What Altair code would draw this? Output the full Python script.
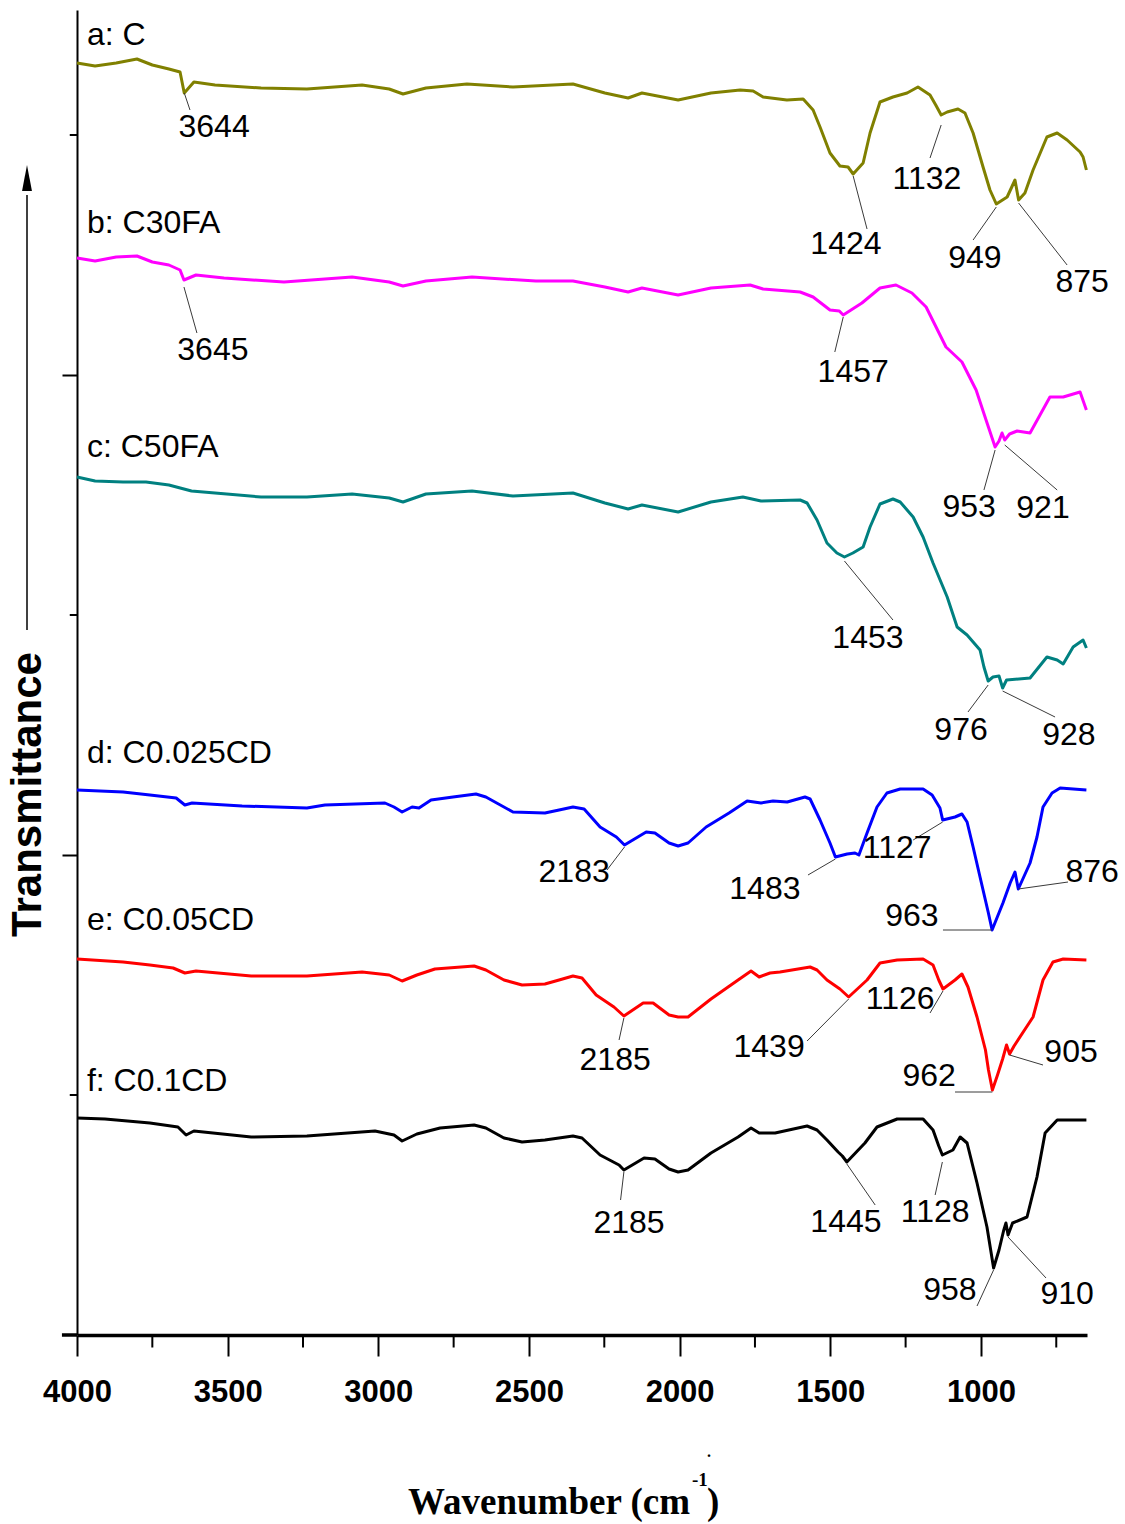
import altair as alt
import pandas as pd

# ---------------------------------------------------------------
# FTIR spectra (wavenumber in cm-1, transmittance in offset a.u.)
# ---------------------------------------------------------------
A_WN = [4000, 3940, 3870, 3801, 3750, 3695, 3658, 3644, 3612, 3542,
        3389, 3237, 3054, 2964, 2918, 2842, 2706, 2553, 2354, 2248,
        2171, 2125, 2005, 1896, 1799, 1756, 1723, 1644, 1590, 1557,
        1534, 1501, 1468, 1441, 1424, 1391, 1368, 1335, 1292, 1245,
        1209, 1169, 1150, 1132, 1112, 1076, 1053, 1026, 993, 970,
        949, 913, 887, 875, 854, 827, 781, 747, 714, 671,
        661, 650]
A_T = [127.2, 126.9, 127.2, 127.6, 127.0, 126.6, 126.3, 124.2, 125.3, 125.0,
       124.7, 124.6, 125.0, 124.6, 124.1, 124.7, 125.1, 124.8, 125.1, 124.2,
       123.7, 124.2, 123.5, 124.2, 124.5, 124.4, 123.8, 123.5, 123.6, 122.5,
       120.8, 118.2, 116.9, 116.8, 116.1, 117.2, 120.2, 123.3, 123.8, 124.2,
       124.8, 124.0, 123.0, 122.0, 122.3, 122.6, 122.2, 120.2, 116.8, 114.5,
       113.1, 113.8, 115.5, 113.5, 114.2, 116.5, 119.8, 120.2, 119.5, 118.3,
       117.8, 116.5]

B_WN = [4000, 3940, 3870, 3801, 3750, 3695, 3658, 3645, 3605, 3512,
        3313, 3087, 2964, 2918, 2842, 2689, 2477, 2354, 2248, 2171,
        2125, 2005, 1896, 1766, 1723, 1600, 1557, 1501, 1470, 1457,
        1395, 1335, 1282, 1229, 1182, 1149, 1116, 1063, 1016, 983,
        953, 940, 930, 921, 905, 880, 837, 804, 771, 727,
        671, 650]
B_T = [107.7, 107.4, 107.8, 107.9, 107.3, 107.0, 106.5, 105.5, 106.0, 105.7,
       105.3, 105.8, 105.3, 104.9, 105.4, 105.8, 105.4, 105.4, 104.8, 104.3,
       104.7, 104.0, 104.7, 105.0, 104.6, 104.3, 103.8, 102.5, 102.4, 102.0,
       103.2, 104.7, 105.0, 104.2, 102.8, 100.8, 98.8, 97.3, 94.5, 91.5,
       88.8, 89.4, 90.2, 89.5, 90.1, 90.4, 90.2, 92.0, 93.8, 93.8,
       94.3, 92.5]

C_WN = [4000, 3940, 3847, 3771, 3695, 3620, 3542, 3389, 3237, 3087,
        2964, 2918, 2842, 2689, 2553, 2354, 2248, 2171, 2125, 2005,
        1896, 1790, 1730, 1600, 1577, 1544, 1511, 1478, 1453, 1425,
        1391, 1368, 1335, 1292, 1268, 1225, 1192, 1159, 1112, 1079,
        1046, 1003, 990, 976, 960, 940, 928, 915, 837, 781,
        747, 727, 694, 661, 650]
C_T = [85.8, 85.4, 85.3, 85.3, 85.0, 84.4, 84.2, 83.8, 83.8, 84.1,
       83.7, 83.3, 84.1, 84.4, 83.9, 84.2, 83.2, 82.6, 83.0, 82.3,
       83.3, 83.8, 83.4, 83.5, 83.2, 81.5, 79.2, 78.2, 77.8, 78.2,
       78.8, 80.8, 83.1, 83.6, 83.3, 81.8, 79.8, 77.2, 73.8, 70.8,
       70.0, 68.5, 66.8, 65.4, 65.8, 65.9, 64.7, 65.5, 65.7, 67.8,
       67.5, 67.1, 68.8, 69.5, 68.7]

D_WN = [4000, 3847, 3758, 3671, 3642, 3618, 3452, 3237, 3177, 2978,
        2948, 2921, 2888, 2865, 2825, 2752, 2676, 2643, 2553, 2447,
        2400, 2354, 2317, 2264, 2210, 2183, 2111, 2082, 2035, 2005,
        1972, 1912, 1836, 1776, 1753, 1730, 1690, 1643, 1584, 1567,
        1534, 1501, 1483, 1444, 1418, 1405, 1378, 1345, 1312, 1268,
        1192, 1162, 1136, 1127, 1086, 1063, 1046, 1026, 1003, 976,
        963, 927, 903, 887, 876, 837, 814, 794, 764, 737,
        650]
D_T = [54.5, 54.3, 54.0, 53.7, 53.0, 53.2, 52.9, 52.7, 53.0, 53.2,
       52.8, 52.3, 52.8, 52.7, 53.5, 53.8, 54.1, 53.8, 52.3, 52.2,
       52.5, 52.8, 52.6, 50.8, 49.8, 49.0, 50.3, 50.2, 49.2, 48.9,
       49.2, 50.8, 52.2, 53.4, 53.3, 53.2, 53.4, 53.3, 53.8, 53.6,
       51.5, 49.2, 47.8, 48.1, 48.2, 48.0, 50.2, 52.8, 54.2, 54.6,
       54.6, 54.0, 52.7, 51.5, 51.8, 52.1, 51.3, 48.8, 45.8, 42.3,
       40.5, 43.2, 45.2, 46.3, 44.6, 47.2, 49.8, 52.8, 54.2, 54.7,
       54.5]

E_WN = [4000, 3847, 3758, 3681, 3642, 3605, 3422, 3237, 3054, 2964,
        2921, 2872, 2812, 2682, 2643, 2583, 2523, 2447, 2400, 2354,
        2324, 2277, 2218, 2185, 2121, 2088, 2035, 2005, 1972, 1896,
        1806, 1763, 1736, 1700, 1667, 1567, 1544, 1511, 1468, 1439,
        1378, 1335, 1278, 1192, 1159, 1140, 1126, 1086, 1063, 1043,
        1013, 985, 975, 962, 945, 928, 915, 905, 890, 827,
        794, 761, 727, 650]
E_T = [37.6, 37.3, 37.0, 36.7, 36.2, 36.4, 35.9, 35.9, 36.3, 36.0,
       35.4, 36.0, 36.6, 36.9, 36.5, 35.5, 35.0, 35.1, 35.5, 35.9,
       35.7, 34.0, 32.8, 31.9, 33.2, 33.2, 32.0, 31.8, 31.8, 33.6,
       35.5, 36.4, 35.8, 36.2, 36.3, 36.8, 36.5, 35.5, 34.6, 33.8,
       35.5, 37.2, 37.5, 37.6, 37.0, 35.5, 34.6, 35.5, 36.1, 34.8,
       31.8, 28.5, 26.5, 24.5, 26.0, 27.6, 29.0, 28.1, 28.9, 31.8,
       35.5, 37.3, 37.6, 37.5]

F_WN = [4000, 3907, 3758, 3665, 3638, 3612, 3422, 3237, 3011, 2948,
        2921, 2872, 2795, 2682, 2643, 2583, 2523, 2447, 2354, 2324,
        2264, 2201, 2185, 2118, 2082, 2035, 2005, 1972, 1896, 1806,
        1763, 1736, 1683, 1577, 1544, 1511, 1474, 1460, 1445, 1385,
        1345, 1278, 1192, 1159, 1140, 1128, 1093, 1069, 1046, 1013,
        980, 958, 940, 925, 917, 910, 895, 847, 814, 787,
        747, 650]
F_T = [21.7, 21.6, 21.2, 20.8, 20.0, 20.4, 19.8, 19.9, 20.4, 20.0,
       19.4, 20.1, 20.7, 21.0, 20.7, 19.7, 19.3, 19.5, 19.9, 19.7,
       18.0, 17.0, 16.5, 17.7, 17.6, 16.6, 16.3, 16.5, 18.2, 19.8,
       20.7, 20.2, 20.2, 20.9, 20.5, 19.5, 18.3, 17.9, 17.3, 19.2,
       20.8, 21.6, 21.6, 20.5, 18.9, 18.0, 18.5, 19.8, 19.2, 15.2,
       10.8, 6.7, 8.5, 10.4, 11.2, 10.0, 11.2, 11.8, 15.8, 20.2,
       21.5, 21.5]

SERIES = ["a: C", "b: C30FA", "c: C50FA", "d: C0.025CD", "e: C0.05CD", "f: C0.1CD"]
COLORS = ["#808000", "#ff00ff", "#008080", "#0000ff", "#ff0000", "#000000"]
WAVENUMBERS = [A_WN, B_WN, C_WN, D_WN, E_WN, F_WN]
TRANSMITTANCE = [A_T, B_T, C_T, D_T, E_T, F_T]

# assigned band positions (cm-1) for each spectrum
PEAKS = [
    [3644, 1424, 1132, 949, 875],
    [3645, 1457, 953, 921],
    [1453, 976, 928],
    [2183, 1483, 1127, 963, 876],
    [2185, 1439, 1126, 962, 905],
    [2185, 1445, 1128, 958, 910],
]

# where each band label sits and how its leader runs:
# (label x, label y, leader start y, leader end x, leader end y)
PEAK_LAYOUT = [
    [(3545, 120.8, 124.2, 3625, 122.5), (1448, 109.1, 115.9, 1378, 110.6),
     (1179, 115.6, 121.0, 1169, 117.7), (1020, 107.7, 112.8, 1026, 109.5),
     (664, 105.3, 113.2, 714, 107.0)],
    [(3549, 98.5, 104.8, 3602, 100.2), (1424, 96.3, 101.8, 1485, 98.3),
     (1039, 82.8, 88.5, 990, 84.5), (794, 82.7, 89.0, 747, 84.5)],
    [(1375, 69.7, 77.4, 1292, 71.5), (1066, 60.5, 65.0, 1043, 62.3),
     (708, 60.0, 64.4, 754, 61.8)],
    [(2350, 46.3, 48.8, 2241, 46.5), (1717, 44.6, 47.6, 1574, 46.0),
     (1278, 48.7, 51.3, 1225, 49.5), (1229, 41.9, 40.5, 1126, 40.5),
     (631, 46.3, 44.6, 711, 45.3)],
    [(2214, 27.5, 31.7, 2201, 29.5), (1703, 28.8, 33.6, 1577, 29.4),
     (1268, 33.6, 34.4, 1169, 32.2), (1172, 25.9, 24.3, 1086, 24.3),
     (701, 28.3, 28.0, 794, 27.0)],
    [(2168, 11.2, 16.3, 2196, 13.5), (1448, 11.3, 17.1, 1351, 13.0),
     (1152, 12.3, 17.3, 1152, 14.0), (1103, 4.5, 6.5, 1013, 2.9),
     (714, 4.1, 9.8, 784, 5.7)],
]

# spectrum name placement (x, y)
NAME_POS = [(3967, 130.0), (3967, 111.2), (3967, 88.8),
            (3967, 58.2), (3967, 41.5), (3967, 25.4)]

MAJOR_X = [4000, 3500, 3000, 2500, 2000, 1500, 1000]
MINOR_X = [3750, 3250, 2750, 2250, 1750, 1250, 750]
MAJOR_Y = [48, 96]
MINOR_Y = [24, 72, 120]

SANS = "Liberation Sans, Arial, sans-serif"

# ---------------------------------------------------------------
# tables
# ---------------------------------------------------------------
rows = []
for name, wns, ts in zip(SERIES, WAVENUMBERS, TRANSMITTANCE):
    for i, (w, t) in enumerate(zip(wns, ts)):
        rows.append({"series": name, "wn": w, "t": t, "i": i})
spectra = pd.DataFrame(rows)

lab_rows, lead_rows = [], []
for peaks, layout in zip(PEAKS, PEAK_LAYOUT):
    for p, (lx, ly, sy, ex, ey) in zip(peaks, layout):
        lab_rows.append({"text": str(p), "x": lx, "y": ly})
        lead_rows.append({"x": p, "y": sy, "x2": ex, "y2": ey})
labels = pd.DataFrame(lab_rows)
leaders = pd.DataFrame(lead_rows)

names = pd.DataFrame({"text": SERIES,
                      "x": [p[0] for p in NAME_POS],
                      "y": [p[1] for p in NAME_POS]})

xscale = alt.Scale(domain=[648, 4000], reverse=True, nice=False, zero=False)
yscale = alt.Scale(domain=[0, 132.5], nice=False, zero=False)

x_axis = alt.Axis(values=MAJOR_X, format="d", title=None, grid=False,
                  domainColor="black", domainWidth=3.5,
                  tickColor="black", tickWidth=2, tickSize=21,
                  labelFont=SANS, labelFontSize=31, labelFontWeight="bold",
                  labelColor="black",
                  labelPadding=21, labelFlush=False, labelOverlap=False)
y_axis = alt.Axis(values=MAJOR_Y, labels=False, grid=False,
                  domainColor="black", domainWidth=2,
                  tickColor="black", tickWidth=2, tickSize=15,
                  title="Transmittance", titleFont=SANS,
                  titleFontWeight="bold", titleFontSize=42, titleColor="black",
                  titleAngle=270, titleX=-50, titleY=784,
                  titleAlign="center", titleBaseline="middle")

curves = alt.Chart(spectra).mark_line(strokeWidth=3, strokeJoin="round").encode(
    x=alt.X("wn:Q", scale=xscale, axis=x_axis),
    y=alt.Y("t:Q", scale=yscale, axis=y_axis),
    color=alt.Color("series:N", scale=alt.Scale(domain=SERIES, range=COLORS), legend=None),
    order=alt.Order("i:Q"),
)

lead = alt.Chart(leaders).mark_rule(color="#3a3a3a", strokeWidth=1).encode(
    x=alt.X("x:Q", scale=xscale), x2="x2:Q",
    y=alt.Y("y:Q", scale=yscale), y2="y2:Q",
)

peak_text = alt.Chart(labels).mark_text(
    font=SANS, fontSize=32, color="black", align="center", baseline="middle"
).encode(x=alt.X("x:Q", scale=xscale), y=alt.Y("y:Q", scale=yscale), text="text:N")

name_text = alt.Chart(names).mark_text(
    font=SANS, fontSize=32, color="black", align="left", baseline="middle"
).encode(x=alt.X("x:Q", scale=xscale), y=alt.Y("y:Q", scale=yscale), text="text:N")

# minor ticks on both axes
minor_x = alt.Chart(pd.DataFrame({"x": MINOR_X})).mark_rule(color="black", strokeWidth=2).encode(
    x=alt.X("x:Q", scale=xscale), y=alt.datum(0), y2=alt.datum(-1.25))
minor_y = alt.Chart(pd.DataFrame({"y": MINOR_Y})).mark_rule(color="black", strokeWidth=2).encode(
    y=alt.Y("y:Q", scale=yscale), x=alt.datum(4000), x2=alt.datum(4024))
# x axis line runs a little past the y axis
axis_stub = alt.Chart(pd.DataFrame({"x": [4050]})).mark_rule(color="black", strokeWidth=3.5).encode(
    x=alt.X("x:Q", scale=xscale), x2=alt.datum(4000), y=alt.datum(0))

one = pd.DataFrame({"k": [0]})
# upward arrow beside the y title
arrow_line = alt.Chart(one).mark_rule(color="black", strokeWidth=1.5).encode(
    x=alt.value(-50), y=alt.value(185), y2=alt.value(620))
arrow_head = alt.Chart(one).mark_point(
    shape="M0,-1L0.38,1L-0.38,1Z", filled=True, color="black", opacity=1, size=676
).encode(x=alt.value(-50), y=alt.value(168))

# x title with superscript unit
xt_main = alt.Chart(one).mark_text(
    text="Wavenumber (cm", font="Liberation Serif", fontWeight="bold", fontSize=37,
    color="black", align="right", baseline="alphabetic"
).encode(x=alt.value(613), y=alt.value(1504))
xt_sup = alt.Chart(one).mark_text(
    text="-1", font="Liberation Serif", fontWeight="bold", fontSize=19,
    color="black", align="left", baseline="alphabetic"
).encode(x=alt.value(615), y=alt.value(1476))
xt_close = alt.Chart(one).mark_text(
    text=")", font="Liberation Serif", fontWeight="bold", fontSize=37,
    color="black", align="left", baseline="alphabetic"
).encode(x=alt.value(630), y=alt.value(1504))
xt_dot = alt.Chart(one).mark_text(
    text=".", font="Liberation Serif", fontWeight="bold", fontSize=16,
    color="black", align="left", baseline="alphabetic"
).encode(x=alt.value(630), y=alt.value(1447))

chart = alt.layer(
    curves, lead, peak_text, name_text, minor_x, minor_y, axis_stub,
    arrow_line, arrow_head, xt_main, xt_sup, xt_close, xt_dot,
).properties(
    width=1010, height=1325,
    padding={"left": 77, "top": 10, "right": 38, "bottom": 189},
    autosize=alt.AutoSizeParams(type="none"),
    background="white",
).configure_view(stroke=None)

chart.save("out.html", embed_options={"renderer": "svg", "actions": False})
